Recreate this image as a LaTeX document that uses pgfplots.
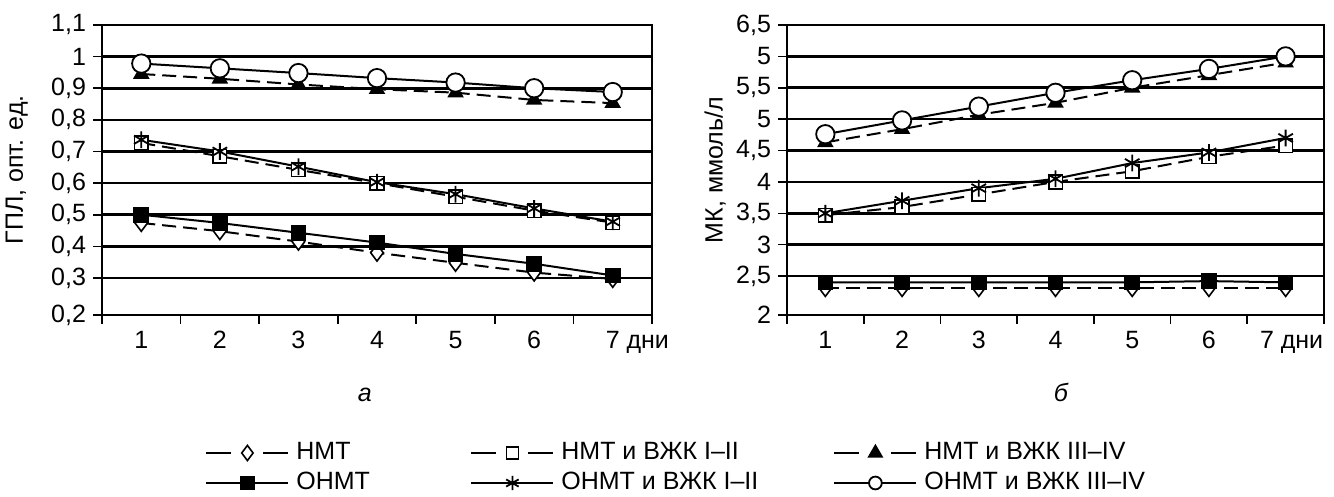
\documentclass[border=0pt]{standalone}
\usepackage{fontspec}
\setmainfont{Liberation Sans}
\usepackage{pgfplots}
\pgfplotsset{compat=1.18}

\newcommand{\fs}{\fontsize{12.5}{14}\selectfont}

\pgfplotsset{
  panel/.style={
    scale only axis, height=145pt,
    xmin=0.5, xmax=7.5,
    xtick={1,...,7},
    minor xtick={0.5,1.5,...,7.5},
    major x tick style={draw=none},
    tick align=outside, tick pos=left,
    major tick length=4.5pt, minor tick length=4.5pt,
    tick style={black, line width=0.8pt},
    axis line style={black, line width=0.9pt},
    ymajorgrids, grid style={black, line width=1.3pt},
    ticklabel style={font=\fs},
    label style={font=\fs},
    /pgf/number format/assume math mode=true,
    clip=false,
  },
  base/.style={black, line width=1pt},
  dsh/.style={base, dash pattern=on 7pt off 3.5pt},
  % legend samples
  dleg/.style={legend image code/.code={
      \draw[##1, solid] (0pt,0pt) -- (12.5pt,0pt) (28.5pt,0pt) -- (41pt,0pt);
      \draw[##1, solid, mark size=#1] plot coordinates {(20.5pt,0pt)};}},
  sleg/.style={legend image code/.code={
      \draw[##1, mark size=#1, mark repeat=2, mark phase=2]
        plot coordinates {(0pt,0pt) (20.5pt,0pt) (41pt,0pt)};}},
  nmt/.style={dsh, dleg=3.8pt, mark=diamond*, mark size=4.2pt, mark options={solid, fill=white, line width=0.8pt}},
  onmt/.style={base, sleg=3.2pt, mark=square*, mark size=3.4pt, mark options={solid, fill=black}},
  nmtA/.style={dsh, dleg=3pt, mark=square*, mark size=3.4pt, mark options={solid, fill=white, line width=0.8pt}},
  onmtA/.style={base, sleg=3.6pt, mark=asterisk, mark size=4.2pt, mark options={solid, line width=0.9pt}},
  nmtB/.style={dsh, dleg=3.6pt, mark=triangle*, mark size=3.8pt, mark options={solid, fill=black}},
  onmtB/.style={base, sleg=3.2pt, mark=*, mark size=4.6pt, mark options={solid, fill=white, line width=0.9pt}},
  legax/.style={scale only axis, width=10pt, height=10pt, hide axis,
    xmin=0, xmax=1, ymin=0, ymax=1,
    legend cell align=left,
    legend style={at={(0,0.5)}, anchor=west, draw=none, fill=none,
      font=\fs, row sep=2pt, inner sep=0pt,
      nodes={inner xsep=3.5pt, inner ysep=1pt, text height=9pt, text depth=2pt}}},
}

\begin{document}
\begin{tikzpicture}
\useasboundingbox (0,0) rectangle (667pt,248.5pt);

% а: ГПЛ
\begin{axis}[panel, width=275pt, at={(51pt,91pt)}, anchor=south west,
  ymin=0.183, ymax=1.1, ytick={0.183,0.3,0.4,0.5,0.6,0.7,0.8,0.9,1.0,1.1},
  yticklabels={{0,2},{0,3},{0,4},{0,5},{0,6},{0,7},{0,8},{0,9},1,{1,1}},
  xticklabels={1,2,3,4,5,6,{7\rlap{ дни}}},
  ylabel={ГПЛ, опт. ед.},
  ylabel style={at={(axis description cs:-0.155,0.5)}, anchor=center}]
\addplot[nmt] coordinates {(1,0.474) (2,0.448) (3,0.415) (4,0.38) (5,0.348) (6,0.317) (7,0.297)};
\addplot[onmt] coordinates {(1,0.50) (2,0.474) (3,0.443) (4,0.412) (5,0.376) (6,0.345) (7,0.308)};
\addplot[nmtA] coordinates {(1,0.727) (2,0.685) (3,0.642) (4,0.60) (5,0.557) (6,0.513) (7,0.475)};
\addplot[onmtA] coordinates {(1,0.737) (2,0.70) (3,0.652) (4,0.603) (5,0.565) (6,0.52) (7,0.478)};
\addplot[nmtB] coordinates {(1,0.945) (2,0.93) (3,0.912) (4,0.897) (5,0.886) (6,0.863) (7,0.853)};
\addplot[onmtB] coordinates {(1,0.978) (2,0.963) (3,0.948) (4,0.932) (5,0.918) (6,0.90) (7,0.888)};
\node[font=\fs\itshape, anchor=base] at (axis description cs:0.478,-0.3) {а};
\end{axis}

% б: МК
\begin{axis}[panel, width=268.5pt, at={(393.5pt,91pt)}, anchor=south west,
  ymin=1.88, ymax=6.5, ytick={1.88,2.5,3,3.5,4,4.5,5,5.5,6,6.5},
  yticklabels={2,{2,5},3,{3,5},4,{4,5},5,{5,5},5,{6,5}},
  xticklabels={1,2,3,4,5,6,{\hspace*{6pt}7 дни}},
  ylabel={МК, ммоль/л},
  ylabel style={at={(axis description cs:-0.134,0.5)}, anchor=center}]
\addplot[nmt] coordinates {(1,2.31) (2,2.31) (3,2.31) (4,2.31) (5,2.31) (6,2.31) (7,2.31)};
\addplot[onmt] coordinates {(1,2.40) (2,2.40) (3,2.40) (4,2.40) (5,2.40) (6,2.42) (7,2.40)};
\addplot[nmtA] coordinates {(1,3.47) (2,3.6) (3,3.8) (4,4.0) (5,4.17) (6,4.4) (7,4.58)};
\addplot[onmtA] coordinates {(1,3.5) (2,3.7) (3,3.9) (4,4.05) (5,4.3) (6,4.47) (7,4.7)};
\addplot[nmtB] coordinates {(1,4.63) (2,4.84) (3,5.07) (4,5.26) (5,5.5) (6,5.7) (7,5.9)};
\addplot[onmtB] coordinates {(1,4.76) (2,4.98) (3,5.2) (4,5.42) (5,5.62) (6,5.8) (7,6.0)};
\node[font=\fs\itshape, anchor=base] at (axis description cs:0.51,-0.3) {б};
\end{axis}

% legend, three columns
\begin{axis}[legax, at={(102.5pt,9.5pt)}]
\addlegendimage{nmt}\addlegendentry{НМТ}
\addlegendimage{onmt}\addlegendentry{ОНМТ}
\end{axis}
\begin{axis}[legax, at={(235pt,9.5pt)}]
\addlegendimage{nmtA}\addlegendentry{НМТ и ВЖК I–II}
\addlegendimage{onmtA}\addlegendentry{ОНМТ и ВЖК I–II}
\end{axis}
\begin{axis}[legax, at={(416.5pt,9.5pt)}]
\addlegendimage{nmtB}\addlegendentry{НМТ и ВЖК III–IV}
\addlegendimage{onmtB}\addlegendentry{ОНМТ и ВЖК III–IV}
\end{axis}
\end{tikzpicture}
\end{document}
